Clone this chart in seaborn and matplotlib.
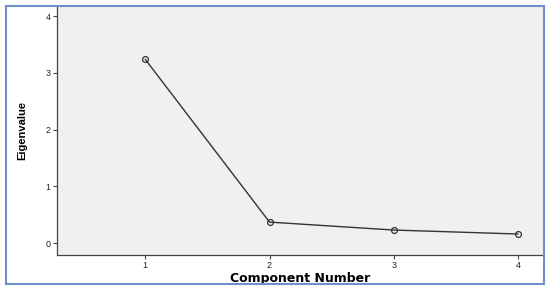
import pandas as pd
import seaborn as sns
import matplotlib.pyplot as plt
from matplotlib.patches import Rectangle

# dados do scree plot
componentes = [1, 2, 3, 4]
autovalores = [3.24, 0.37, 0.23, 0.16]

df = pd.DataFrame({'Component Number': componentes, 'Eigenvalue': autovalores})

sns.set_style('white')
plt.rcParams['font.family'] = ['Liberation Sans', 'DejaVu Sans']

fig = plt.figure(figsize=(5.5, 2.9), dpi=100)
ax = fig.add_axes([57 / 550, 35 / 290, 486 / 550, 249 / 290])
ax.set_facecolor('#f0f0f0')

sns.lineplot(data=df, x='Component Number', y='Eigenvalue', ax=ax, color='#333333',
             linewidth=1.0, marker='o', markersize=4.2, markerfacecolor='none',
             markeredgecolor='#333333', markeredgewidth=0.9)

ax.set_xlim(0.29, 4.2)
ax.set_ylim(-0.21, 4.18)
ax.set_xticks(componentes)
ax.set_yticks([0, 1, 2, 3, 4])
ax.tick_params(axis='both', direction='out', length=3, width=0.8, color='#444444',
               labelsize=6.5, labelcolor='#222222', pad=1.5)
ax.tick_params(axis='both', which='both', bottom=True, left=True)

for lado in ['top', 'right']:
    ax.spines[lado].set_visible(False)
for lado in ['left', 'bottom']:
    ax.spines[lado].set_color('#444444')
    ax.spines[lado].set_linewidth(0.9)

ax.set_xlabel('Component Number', fontsize=9, fontweight='bold', family='DejaVu Sans',
              color='black', labelpad=1)
ax.set_ylabel('Eigenvalue', fontsize=8, fontweight='bold', color='black', labelpad=13)

# moldura azul em volta da figura
fig.patches.append(Rectangle((6 / 550, 6 / 290), 538 / 550, 278 / 290, transform=fig.transFigure,
                             fill=False, edgecolor='#6f8fc9', linewidth=1.5, zorder=10))

fig.savefig('out.png', dpi=100)
